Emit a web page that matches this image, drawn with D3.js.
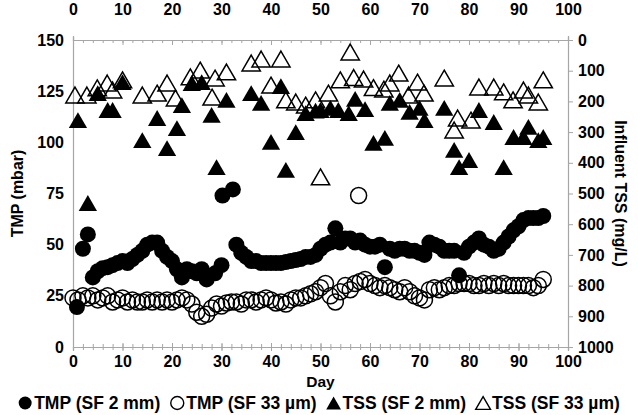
<!DOCTYPE html>
<html><head><meta charset="utf-8">
<script src="https://cdn.jsdelivr.net/npm/d3@7"></script>
<style>
body{margin:0;background:#fff;}
text{font-family:"Liberation Sans",Arial,sans-serif;font-weight:bold;fill:#000;}
</style></head>
<body><svg id="c" width="638" height="415"></svg>
<script>
// ---- data ----
const dayTicks = [0,10,20,30,40,50,60,70,80,90,100];
const tmpTicks = [0,25,50,75,100,125,150];
const tssTicks = [0,100,200,300,400,500,600,700,800,900,1000];

const tmp2Day = [0.8,2,3,4,5,6,7,8,9,10,11,12,13,14,15,16,17,18,19,20,21,22,23,24,25,26,27,28.7,30,30.2,32.3,33,34,35,36,37,38,39,40,41,42,43,44,45,46,47,48,49,50,51,52,53,54,55,56,57,58,59,60,61,62,63,64,65,66,67,68,69,70,71,72,73,74,75,76,77,78,79,80,81,82,83,84,85,86,87,88,89,90,91,92,93,94,95];
const tmp2Val = [19.5,48,55,34,37,38.5,39,40,41,42,41,43,45,47,50,51,51,47,44,42,38,34,38,37,36,38,33,36,40,74,77,50,46,44,42,42,41,41,41,41,41,41.5,42,42.5,43,44,44,45,48,50,51,58,51,53,53,51,52,50,49,49,50,39,48,47,48,48,47,47,46,45,51,50,49,47,47,47,35,46,49,51,53,50,49,47,48,51,54,57,59,62,63,63,63,64];

const tmp33Day = [0,1,2,3,4,5,6,7,8,9,10,11,12,13,14,15,16,17,18,19,20,21,22,23,24,25,26,27,28,29,30,31,32,33,34,35,36,37,38,39,40,41,42,43,44,45,46,47,48,49,50,51,52,53,54,55,56,57,57.7,58,59,60,61,62,63,64,65,66,67,68,69,70,71,72,73,74,75,76,77,78,79,80,81,82,83,84,85,86,87,88,89,90,91,92,93,94,95];
const tmp33Val = [24,23,25,24,25,23,24,25,22,23,24,22,23,22,22,23,22,23,22,23,22,23,24,23,21,17,15,16,19,21,20,21.5,22,22,21,23,23,22,23,24,23,21.5,22,21,23,24,24,25,26,27,29,31,25,22,27,30,28,31,74,32,33,31,30,29,30,29,28,27,29,27,25,24,23,28,29,28,29,30,30,31,31,31,30,30,31,30,31,30,31,30,30,30,30,30,29,30,33];

const tss2Day = [1,3,5,7,8,10,14,17,19,21,22,24,26,28,29,31,36,38,40,42,43,45,47,49,50,52,53.6,55.7,57,59,60.7,63,64,66,68,70,71,75,77,78,80,82,85,87,89,91,92,94,95];
const tss2Val = [261,531,173,228,228,137,326,254,352,287,212,140,137,244,414,195,173,205,332,150,423,300,238,230,228,221,228,238,192,225,335,319,205,195,234,221,261,221,358,414,391,228,267,414,316,316,283,326,316];

const tss33Day = [0.4,2.8,4.9,6.9,8,10,14,17,19,20.7,23.7,25.7,28.1,28.7,31,36,38,40,42,43,45,47,49,50,51.6,54,56,56.7,58.7,60.7,62.8,64,65.8,67.8,69.6,70.9,75,77,77.7,80.4,82,85,87,88.9,91,92,94,95];
const tss33Val = [179,179,156,140,163,130,179,173,140,189,120,98,186,124,104,75,62,147,62,195,202,212,195,446,173,130,39,122,127,155,160,140,108,179,137,173,124,293,254,261,153,153,169,195,163,179,202,130];

const legendLabels = ["TMP (SF 2 mm)","TMP (SF 33 µm)","TSS (SF 2 mm)","TSS (SF 33 µm)"];

// ---- chart ----
const svg = d3.select("#c");
const X0=73, X1=568, YT=40, YB=347;
const x = d3.scaleLinear().domain([0,100]).range([X0,X1]);
const yL = d3.scaleLinear().domain([0,150]).range([YB,YT]);
const yR = d3.scaleLinear().domain([0,1000]).range([YT,YB]);
const axisCol = "#a6a6a6";
const FS = 16;

function styleAxis(g){
  g.select(".domain").attr("stroke",axisCol).attr("stroke-width",1.2);
  g.selectAll(".tick line").attr("stroke",axisCol);
  g.selectAll("text").attr("font-size",FS).attr("font-family",'"Liberation Sans",Arial,sans-serif').attr("font-weight","bold").attr("fill","#000");
}
const minor = d3.range(0,101,2);
const gbm = svg.append("g").attr("transform",`translate(0,${YB})`).call(d3.axisBottom(x).tickValues(minor).tickFormat("").tickSizeOuter(0).tickSize(3));
styleAxis(gbm); gbm.selectAll(".tick line").attr("y1",-3).attr("y2",3);
const gtm = svg.append("g").attr("transform",`translate(0,${YT})`).call(d3.axisTop(x).tickValues(minor).tickFormat("").tickSizeOuter(0).tickSize(3));
styleAxis(gtm); gtm.selectAll(".tick line").attr("y1",0).attr("y2",3);

const gb = svg.append("g").attr("transform",`translate(0,${YB})`).call(d3.axisBottom(x).tickValues(dayTicks).tickFormat(d3.format("d")).tickSizeOuter(0).tickSize(4).tickPadding(5));
styleAxis(gb); gb.selectAll(".tick line").attr("y1",-4).attr("y2",4);
const gt = svg.append("g").attr("transform",`translate(0,${YT})`).call(d3.axisTop(x).tickValues(dayTicks).tickFormat(d3.format("d")).tickSizeOuter(0).tickSize(4).tickPadding(21));
styleAxis(gt); gt.selectAll(".tick line").attr("y1",0).attr("y2",5);

const gl = svg.append("g").attr("transform",`translate(${X0},0)`).call(d3.axisLeft(yL).tickValues(tmpTicks).tickFormat(d3.format("d")).tickSizeOuter(0).tickSize(0).tickPadding(9));
styleAxis(gl);
const gr = svg.append("g").attr("transform",`translate(${X1},0)`).call(d3.axisRight(yR).tickValues(tssTicks).tickFormat(d3.format("d")).tickSizeOuter(0).tickSize(5).tickPadding(5));
styleAxis(gr);

// titles
svg.append("text").attr("transform",`translate(23,${(YT+YB)/2}) rotate(-90)`).attr("text-anchor","middle").attr("font-size",FS).text("TMP (mbar)");
svg.append("text").attr("transform",`translate(615,${(YT+YB)/2}) rotate(90)`).attr("text-anchor","middle").attr("font-size",FS).text("Influent TSS (mg/L)");
svg.append("text").attr("x",x(50)).attr("y",387).attr("text-anchor","middle").attr("font-size",15.5).text("Day");

// marks
const triSize = 145;
const triOff = Math.sqrt(triSize/(3*Math.sqrt(3)))/2;
const tri = d3.symbol().type(d3.symbolTriangle).size(triSize);
const R = 8;

svg.append("g").selectAll("circle").data(d3.zip(tmp33Day,tmp33Val)).join("circle")
  .attr("cx",d=>x(d[0])).attr("cy",d=>yL(d[1])).attr("r",R)
  .attr("fill","none").attr("stroke","#000").attr("stroke-width",1.5);
svg.append("g").selectAll("circle").data(d3.zip(tmp2Day,tmp2Val)).join("circle")
  .attr("cx",d=>x(d[0])).attr("cy",d=>yL(d[1])).attr("r",R).attr("fill","#000");
svg.append("g").selectAll("path").data(d3.zip(tss33Day,tss33Val)).join("path")
  .attr("d",tri).attr("transform",d=>`translate(${x(d[0])},${yR(d[1])+triOff})`)
  .attr("fill","none").attr("stroke","#000").attr("stroke-width",1.5);
svg.append("g").selectAll("path").data(d3.zip(tss2Day,tss2Val)).join("path")
  .attr("d",tri).attr("transform",d=>`translate(${x(d[0])},${yR(d[1])+triOff})`)
  .attr("fill","#000");

// legend
const LY = 403, LFS = 17.5;
const lg = svg.append("g");
let cx = 0;
const items = [];
legendLabels.forEach((lab,i)=>{
  const sx = cx + 7; cx += 16;
  const t = lg.append("text").attr("x",cx).attr("y",LY+6).attr("font-size",LFS).text(lab);
  const w = t.node().getComputedTextLength();
  items.push({i,sx});
  cx += w + 10;
});
const total = cx - 10;
lg.attr("transform",`translate(${(638-total)/2},0)`);
items.forEach(({i,sx})=>{
  if(i<2){
    lg.append("circle").attr("cx",sx).attr("cy",LY).attr("r",6.5)
      .attr("fill",i==0?"#000":"none").attr("stroke","#000").attr("stroke-width",i==0?0:1.4);
  } else {
    const s = d3.symbol().type(d3.symbolTriangle).size(95);
    lg.append("path").attr("d",s).attr("transform",`translate(${sx},${LY+Math.sqrt(95/(3*Math.sqrt(3)))/2})`)
      .attr("fill",i==2?"#000":"none").attr("stroke","#000").attr("stroke-width",i==2?0:1.4);
  }
});
</script></body></html>
